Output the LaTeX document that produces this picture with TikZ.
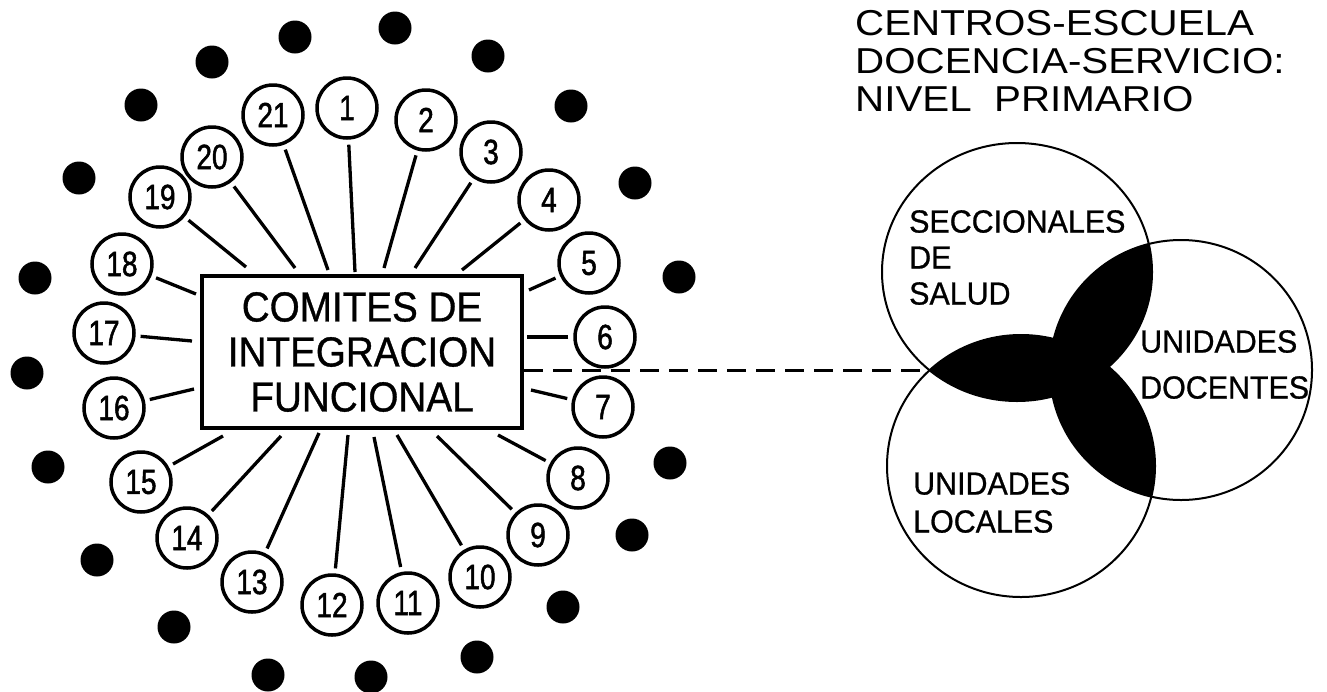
\documentclass[tikz,border=0pt]{standalone}
\usepackage{fontspec}
\setmainfont{Liberation Sans}
\newfontfamily\boxfont{Liberation Sans}[FakeStretch=0.92,FakeBold=0.8]
\newfontfamily\titlefont{Liberation Sans}[FakeStretch=1.12]
\newfontfamily\vennfont{Liberation Sans}[FakeStretch=0.95,FakeBold=0.8]
\newfontfamily\numfont{Liberation Sans}[FakeStretch=0.8,FakeBold=1.4]
\tikzset{
  numc/.style={circle, draw, line width=3.5pt, minimum size=60pt, inner sep=0pt,
    font={\numfont\fontsize{35}{35}\selectfont}},
  dotc/.style={circle, fill=black, inner sep=0pt, minimum size=33pt},
  spoke/.style={line width=3.3pt, shorten <=5pt},
  cbox/.style={draw, line width=4pt, minimum width=320pt, minimum height=152pt,
    inner sep=0pt, align=center, font={\boxfont\fontsize{42}{45}\selectfont}},
  vlabel/.style={anchor=north west, inner sep=0pt, align=left},
  vring/.style={line width=2pt},
  dashconn/.style={line width=3pt, dash pattern=on 19pt off 10pt}
}
\begin{document}
\begin{tikzpicture}[x=1pt,y=-1pt]
\useasboundingbox (0,0) rectangle (1327,691);
\fill[white] (0,0) rectangle (1327,691);

% central box
\node[cbox] (box) at (362,352) {COMITES DE\\INTEGRACION\\FUNCIONAL};

% numbered circles
\node[numc] (c1)  at (347,108) {1};
\node[numc] (c2)  at (426,120) {2};
\node[numc] (c3)  at (491,152) {3};
\node[numc] (c4)  at (549,200) {4};
\node[numc] (c5)  at (589,263) {5};
\node[numc] (c6)  at (605,337) {6};
\node[numc] (c7)  at (603,407) {7};
\node[numc] (c8)  at (578,478) {8};
\node[numc] (c9)  at (538,535) {9};
\node[numc] (c10) at (480,577) {10};
\node[numc] (c11) at (408,603) {11};
\node[numc] (c12) at (332,605) {12};
\node[numc] (c13) at (252,582) {13};
\node[numc] (c14) at (187,538) {14};
\node[numc] (c15) at (141,482) {15};
\node[numc] (c16) at (114,408) {16};
\node[numc] (c17) at (104,333) {17};
\node[numc] (c18) at (122,264) {18};
\node[numc] (c19) at (160,197) {19};
\node[numc] (c20) at (212,157) {20};
\node[numc] (c21) at (273,115) {21};

% spoke end points near the box
\coordinate (e1)  at (355,272);
\coordinate (e2)  at (384,268);
\coordinate (e3)  at (415,268);
\coordinate (e4)  at (462,270);
\coordinate (e5)  at (529,290);
\coordinate (e6)  at (527,337);
\coordinate (e7)  at (531,390);
\coordinate (e8)  at (498,435);
\coordinate (e9)  at (437,436);
\coordinate (e10) at (397,435);
\coordinate (e11) at (374,437);
\coordinate (e12) at (348,435);
\coordinate (e13) at (319,433);
\coordinate (e14) at (281,436);
\coordinate (e15) at (223,436);
\coordinate (e16) at (194,389);
\coordinate (e17) at (192,341);
\coordinate (e18) at (196,294);
\coordinate (e19) at (246,267);
\coordinate (e20) at (295,268);
\coordinate (e21) at (328,270);
\foreach \i in {1,...,21} \draw[spoke] (c\i) -- (e\i);

% outer dots
\node[dotc] (d1)  at (295,37) {};
\node[dotc] (d2)  at (395,28) {};
\node[dotc] (d3)  at (488,56) {};
\node[dotc] (d4)  at (571,106) {};
\node[dotc] (d5)  at (635,183) {};
\node[dotc] (d6)  at (679,277) {};
\node[dotc] (d7)  at (670,463) {};
\node[dotc] (d8)  at (632,535) {};
\node[dotc] (d9)  at (563,607) {};
\node[dotc] (d10) at (477,657) {};
\node[dotc] (d11) at (371,677) {};
\node[dotc] (d12) at (268,675) {};
\node[dotc] (d13) at (174,627) {};
\node[dotc] (d14) at (97,560) {};
\node[dotc] (d15) at (48,467) {};
\node[dotc] (d16) at (27,373) {};
\node[dotc] (d17) at (35,278) {};
\node[dotc] (d18) at (79,178) {};
\node[dotc] (d19) at (141,105) {};
\node[dotc] (d20) at (212,62) {};

% title
\node[vlabel, font={\titlefont\fontsize{36}{38}\selectfont}] (title) at (855,10)
  {CENTROS-ESCUELA\\DOCENCIA-SERVICIO:\\NIVEL\ \ PRIMARIO};

% Venn diagram: black where at least two sets overlap
\begin{scope}
  \clip (1017,272) ellipse [x radius=135, y radius=129];
  \fill[black] (1021,466) ellipse [x radius=134, y radius=131];
  \fill[black] (1181,370) ellipse [x radius=131, y radius=130];
\end{scope}
\begin{scope}
  \clip (1021,466) ellipse [x radius=134, y radius=131];
  \fill[black] (1181,370) ellipse [x radius=131, y radius=130];
\end{scope}
\draw[vring] (1017,272) ellipse [x radius=135, y radius=129];
\draw[vring] (1021,466) ellipse [x radius=134, y radius=131];
\draw[vring] (1181,370) ellipse [x radius=131, y radius=130];

\node[vlabel, font={\vennfont\fontsize{32}{36}\selectfont}] (salud) at (909,210)
  {SECCIONALES\\DE\\SALUD};
\node[vlabel, font={\vennfont\fontsize{32}{46}\selectfont}] (docentes) at (1140,330)
  {UNIDADES\\DOCENTES};
\node[vlabel, font={\vennfont\fontsize{32}{38}\selectfont}] (locales) at (913,472)
  {UNIDADES\\LOCALES};

% dashed connector
\coordinate (vint) at (930,370);
\draw[dashconn] (box.east |- vint) -- (vint);
\end{tikzpicture}
\end{document}
